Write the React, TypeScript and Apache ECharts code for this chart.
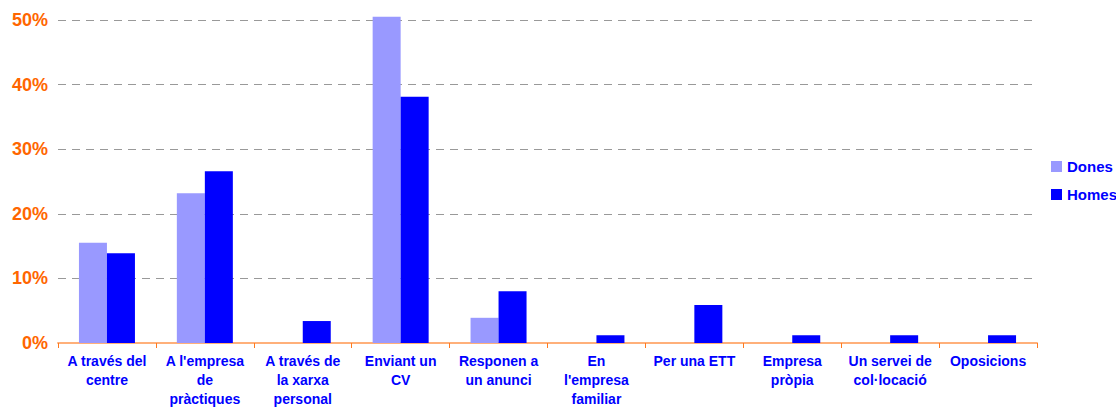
import React, { useEffect, useRef } from "react";
import * as echarts from "echarts";

const categories = [
  "A través del\ncentre",
  "A l'empresa\nde\npràctiques",
  "A través de\nla xarxa\npersonal",
  "Enviant un\nCV",
  "Responen a\nun anunci",
  "En\nl'empresa\nfamiliar",
  "Per una ETT",
  "Empresa\npròpia",
  "Un servei de\ncol·locació",
  "Oposicions",
];
const dones = [15.5, 23.2, 0, 50.5, 3.9, 0, 0, 0, 0, 0];
const homes = [13.9, 26.6, 3.4, 38.1, 8.0, 1.2, 5.9, 1.2, 1.2, 1.2];
const yTicks = [0, 10, 20, 30, 40, 50];

const FONT = "'Liberation Sans', Arial, sans-serif";

export default function App() {
  const ref = useRef<HTMLDivElement>(null);
  useEffect(() => {
    if (!ref.current) return;
    const chart = echarts.init(ref.current, undefined, { renderer: "svg" });
    chart.setOption({
      animation: false,
      backgroundColor: "#ffffff",
      grid: {
        left: 58,
        right: 79,
        top: 20,
        bottom: 66,
        containLabel: false,
        outerBoundsMode: "none",
      },
      legend: {
        orient: "vertical",
        left: 1046,
        top: 154,
        itemWidth: 11,
        itemHeight: 11,
        itemGap: 13,
        icon: "rect",
        textStyle: { color: "#0000FF", fontWeight: "bold", fontSize: 15, fontFamily: FONT },
        data: ["Dones", "Homes"],
      },
      xAxis: {
        type: "category",
        data: categories,
        axisLine: { show: true, lineStyle: { color: "#FFB07A", width: 2 } },
        axisTick: { show: true, lineStyle: { color: "#FF7A20" }, length: 5 },
        axisLabel: {
          interval: 0,
          color: "#0000FF",
          fontWeight: "bold",
          fontSize: 14,
          fontFamily: FONT,
          lineHeight: 19,
          margin: 8,
        },
      },
      yAxis: {
        type: "value",
        min: yTicks[0],
        max: yTicks[yTicks.length - 1],
        interval: 10,
        axisLine: { show: false },
        axisTick: { show: false },
        axisLabel: {
          formatter: (v: number) => `${v}%`,
          color: "#FF6600",
          fontWeight: "bold",
          fontSize: 18,
          fontFamily: FONT,
          margin: 10,
        },
        splitLine: {
          show: true,
          lineStyle: { color: "#999999", type: [8, 6], width: 1 },
        },
      },
      series: [
        {
          name: "Dones",
          type: "bar",
          data: dones,
          itemStyle: { color: "#9999FF" },
          barWidth: 28,
          barGap: "0%",
          clip: false,
        },
        {
          name: "Homes",
          type: "bar",
          data: homes,
          itemStyle: { color: "#0000FF" },
          barWidth: 28,
          barGap: "0%",
          clip: false,
        },
      ],
    });
    return () => chart.dispose();
  }, []);
  return (
    <div
      ref={ref}
      style={{ position: "fixed", left: 0, top: 0, width: 1116, height: 409 }}
    />
  );
}
